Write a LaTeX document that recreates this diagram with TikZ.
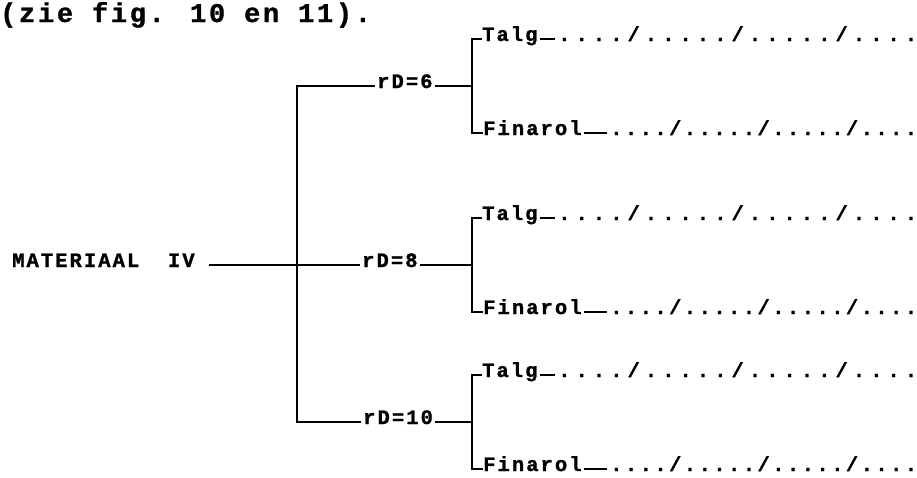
\documentclass[tikz,border=0pt]{standalone}
\usepackage{fontspec}
\newfontfamily\tw[LetterSpace=10,BoldFeatures={FakeBold=1.2}]{Liberation Mono}
\newfontfamily\twhead[LetterSpace=10,BoldFeatures={FakeBold=1.2}]{Liberation Mono}
\newcommand\ldr[1]{\makebox[#1][s]{.\hfil.\hfil.\hfil.\hfil/\hfil.\hfil.\hfil.\hfil.\hfil.\hfil/\hfil.\hfil.\hfil.\hfil.\hfil.\hfil/\hfil.\hfil.\hfil.\hfil.}}
\begin{document}
\begin{tikzpicture}[x=1pt,y=1pt,
  lbl/.style={anchor=base west,inner sep=0pt,font=\tw\bfseries\fontsize{20.5}{22}\selectfont},
  hl/.style={line width=1.3pt},
  vl/.style={line width=2.2pt,line cap=rect}]
\useasboundingbox (0,0) rectangle (917,-477);
\node[anchor=base west,inner sep=0pt,font=\twhead\bfseries\fontsize{27}{29}\selectfont] (hdr) at (0,-22) {(zie fig. 10 en 11).};
\node[lbl] (mat) at (12,-267) {MATERIAAL~~IV};
\coordinate (top) at (297,-86);
\coordinate (bot) at (297,-422);
\coordinate (j8) at (297,-265);
\draw[hl,shorten <=14pt] (mat.east |- j8) -- (j8);
\draw[vl] (top) -- (bot);
\foreach \i/\y/\rx in {6/86/377,8/265/362,10/422/363}{
  \coordinate (j\i) at (297,-\y);
  \node[lbl] (r\i) at (\rx,-\y-2) {rD=\i};
  \coordinate (b\i) at (472,-\y);
  \coordinate (bt\i) at (472,-\y+47);
  \coordinate (bb\i) at (472,-\y-47);
  \node[lbl] (t\i) at (482,-\y+45) {Talg};
  \node[lbl] (f\i) at (483,-\y-49) {Finarol};
  \node[lbl] (lt\i) at (558,-\y+45) {\ldr{359pt}};
  \node[lbl] (lf\i) at (610,-\y-49) {\ldr{307pt}};
  \draw[hl,shorten >=2pt] (j\i) -- (r\i.west |- j\i);
  \draw[hl,shorten <=2pt] (r\i.east |- b\i) -- (b\i);
  \draw[vl] (bt\i) -- (bb\i);
  \draw[hl] (bt\i) -- (t\i.west |- bt\i);
  \draw[hl,shorten <=2pt,shorten >=3pt] (t\i.east |- bt\i) -- (lt\i.west |- bt\i);
  \draw[hl] (bb\i) -- (f\i.west |- bb\i);
  \draw[hl,shorten <=2pt,shorten >=3pt] (f\i.east |- bb\i) -- (lf\i.west |- bb\i);
}
\end{tikzpicture}
\end{document}
